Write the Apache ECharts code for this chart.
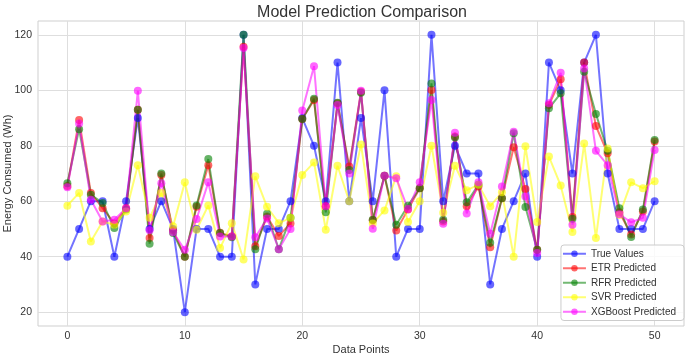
<!DOCTYPE html>
<html>
<head>
<meta charset="utf-8">
<title>Model Prediction Comparison</title>
<script src="https://cdn.jsdelivr.net/npm/echarts@6.0.0/dist/echarts.min.js"></script>
<style>
  html, body { margin: 0; padding: 0; background: #ffffff; }
  #chart { width: 685px; height: 356px; }
</style>
</head>
<body>
<div id="chart"></div>
<script>
const dataPoints = Array.from({ length: 51 }, (_, i) => i);

const trueValues = [
  40, 50, 60, 60, 40, 60, 90, 50, 60, 50,
  20, 50, 50, 40, 40, 120, 30, 50, 50, 60,
  90, 80, 60, 110, 60, 90, 60, 100, 40, 50,
  50, 120, 60, 80, 70, 70, 30, 50, 60, 70,
  40, 110, 100, 70, 110, 120, 70, 50, 50, 50,
  60,
];
const etrPredicted = [
  65.5, 89.3, 63, 57.5, 52, 57.5, 93, 46.7, 69.5, 49.5,
  40, 58, 73, 48.6, 47.3, 115.7, 43.8, 54.5, 47.5, 52,
  89.7, 96.5, 58.2, 95.3, 72.5, 99.5, 53.1, 69.2, 49.4, 57,
  64.7, 100.1, 52.7, 83.3, 58.2, 65.3, 43.4, 61.1, 79.5, 64.4,
  42.5, 94.7, 104, 54.3, 110, 87.1, 77.3, 56, 48, 56.3,
  81.5,
];
const rfrPredicted = [
  66.5, 86, 62.3, 59.4, 50.3, 57, 93, 44.7, 70, 48.5,
  40, 58.5, 75.2, 48.5, 47, 120, 42.7, 55.5, 42.7, 54,
  89.7, 97, 56, 95.5, 71.3, 99.1, 53.3, 69.2, 51.5, 58.4,
  64.7, 102.5, 53.3, 83, 59.6, 65.9, 45, 61.1, 84.5, 57.9,
  42.5, 93.5, 98.9, 53.7, 106.7, 91.5, 78.2, 57.5, 47.1, 57,
  82.1,
];
const svrPredicted = [
  58.4, 63, 45.5, 52.7, 51.5, 56.3, 73, 54, 63, 51,
  66.8, 49.7, 58.5, 43.1, 52.1, 39, 69, 58, 52.1, 54,
  69.5, 74, 49.7, 72.8, 60, 80.5, 52, 56.7, 69, 52.5,
  60, 80, 55.8, 72.8, 64, 65.9, 58.2, 63.2, 40, 79.8,
  52.5, 76.1, 65.7, 48.9, 80.8, 46.7, 79, 55, 66.8, 64.7,
  67.2,
];
const xgbPredicted = [
  65, 88, 60.5, 52.7, 53.3, 57.5, 99.8, 49.5, 66.5, 48.8,
  42.5, 53.6, 66.8, 47.3, 47.3, 115.3, 47, 53.8, 42.7, 50,
  92.7, 108.7, 58.2, 94.7, 70, 99.8, 50.1, 69.2, 68.3, 57.2,
  66.8, 96.5, 51.9, 84.7, 55.6, 66.8, 48.3, 65.3, 85.1, 61.7,
  41.3, 95.3, 106.3, 51.5, 107.9, 78.2, 73, 55.3, 52.4, 54,
  78.5,
];

const xTicks = [0, 10, 20, 30, 40, 50];
const yTicks = [20, 40, 60, 80, 100, 120];

const seriesDefs = [
  { name: "True Values", color: "#0000ff", values: trueValues },
  { name: "ETR Predicted", color: "#ff0000", values: etrPredicted },
  { name: "RFR Predicted", color: "#008000", values: rfrPredicted },
  { name: "SVR Predicted", color: "#ffff00", values: svrPredicted },
  { name: "XGBoost Predicted", color: "#ff00ff", values: xgbPredicted },
];

const FONT = "'Liberation Sans', Arial, sans-serif";
const TEXT_COLOR = "#333333";
const GRID_COLOR = "#dedede";

function buildSeries() {
  return seriesDefs.map(({ name, color, values }) => ({
    name,
    type: "line",
    data: values.map((v, i) => [dataPoints[i], v]),
    symbol: "circle",
    symbolSize: 8,
    showAllSymbol: true,
    lineStyle: { color, width: 2, opacity: 0.55 },
    itemStyle: { color, opacity: 0.6 },
    emphasis: { disabled: true },
  }));
}

const chart = echarts.init(document.getElementById("chart"));
chart.setOption({
  animation: false,
  backgroundColor: "#ffffff",
  title: {
    text: "Model Prediction Comparison",
    left: 357,
    textAlign: "center",
    top: 0,
    textStyle: { fontFamily: FONT, fontSize: 16, fontWeight: "normal", color: TEXT_COLOR },
  },
  legend: {
    orient: "vertical",
    right: 1,
    top: 245,
    itemWidth: 23,
    itemHeight: 8,
    itemGap: 3,
    padding: [3, 8, 3, 1],
    backgroundColor: "rgba(255,255,255,0.8)",
    borderColor: "#cccccc",
    borderWidth: 1,
    borderRadius: 3,
    textStyle: { fontFamily: FONT, fontSize: 10, color: TEXT_COLOR, lineHeight: 11.5 },
    data: seriesDefs.map((s) => s.name),
  },
  grid: {
    left: 38,
    right: 1,
    top: 21,
    bottom: 30,
    outerBoundsMode: "none",
    containLabel: false,
    show: true,
    borderColor: "#cfcfcf",
    borderWidth: 1,
  },
  xAxis: {
    type: "value",
    min: -2.5,
    max: 52.5,
    name: "Data Points",
    nameLocation: "middle",
    nameGap: 18,
    nameMoveOverlap: false,
    nameTextStyle: { fontFamily: FONT, fontSize: 11, color: TEXT_COLOR },
    axisLine: { show: false },
    axisTick: { show: false, customValues: xTicks },
    axisLabel: { customValues: xTicks, margin: 5, fontFamily: FONT, fontSize: 10.5, color: TEXT_COLOR },
    splitLine: { show: true, lineStyle: { color: GRID_COLOR, width: 1 } },
  },
  yAxis: {
    type: "value",
    min: 15,
    max: 125,
    name: "Energy Consumed (Wh)",
    nameLocation: "middle",
    nameGap: 25,
    nameMoveOverlap: false,
    nameTextStyle: { fontFamily: FONT, fontSize: 11, color: TEXT_COLOR },
    axisLine: { show: false },
    axisTick: { show: false, customValues: yTicks },
    axisLabel: { customValues: yTicks, margin: 6, fontFamily: FONT, fontSize: 10.5, color: TEXT_COLOR },
    splitLine: { show: true, lineStyle: { color: GRID_COLOR, width: 1 } },
  },
  series: buildSeries(),
});
</script>
</body>
</html>
